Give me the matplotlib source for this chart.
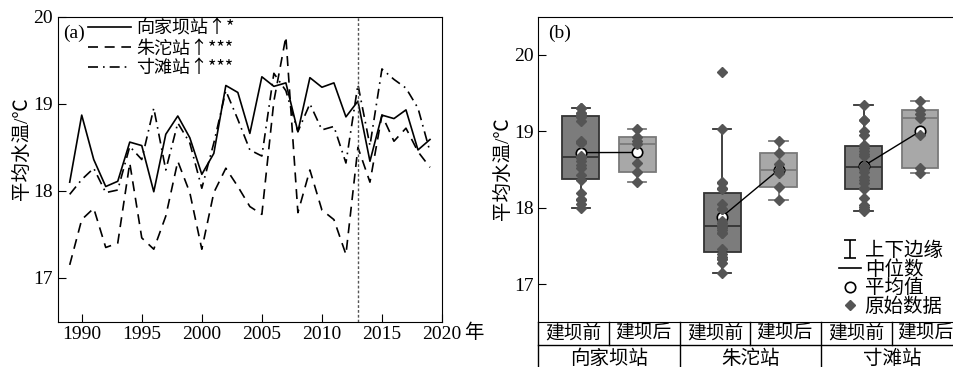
import matplotlib
matplotlib.use('Agg')
import matplotlib.pyplot as plt
import numpy as np
from matplotlib.lines import Line2D
from matplotlib.path import Path

plt.rcParams['font.family'] = ['Liberation Serif', 'Noto Sans CJK SC', 'DejaVu Sans']
plt.rcParams['font.size'] = 14

# annual mean water temperature, 1989-2019
years = np.arange(1989, 2020)
xiangjiaba = [18.10, 18.87, 18.36, 18.05, 18.11, 18.56, 18.52, 17.99, 18.65, 18.86, 18.61,
              18.19, 18.43, 19.21, 19.13, 18.66, 19.31, 19.20, 19.24, 18.68, 19.30,
              19.19, 19.24, 18.85, 19.03, 18.34, 18.87, 18.83, 18.93, 18.47, 18.59]
zhutuo = [17.15, 17.67, 17.80, 17.35, 17.40, 18.32, 17.46, 17.33, 17.71, 18.34, 17.98,
          17.33, 17.98, 18.26, 18.05, 17.82, 17.73, 19.03, 19.77, 17.75, 18.24,
          17.78, 17.67, 17.27, 18.50, 18.10, 18.87, 18.57, 18.72, 18.45, 18.27]
cuntan = [17.96, 18.13, 18.26, 17.98, 18.01, 18.51, 18.36, 18.95, 18.24, 18.78, 18.55,
          18.03, 18.55, 19.15, 18.82, 18.47, 18.40, 19.35, 19.15, 18.68, 19.00,
          18.70, 18.74, 18.32, 19.22, 18.52, 19.40, 19.28, 19.18, 18.95, 18.45]
dam_year = 2013

stations = ['向家坝站', '朱沱站', '寸滩站']
trends = ['↑*', '↑***', '↑***']
periods = ['建坝前', '建坝后']
series = [xiangjiaba, zhutuo, cuntan]
styles = ['-', (0, (6, 4)), (0, (6, 3, 1, 3))]

W, H = 954, 367
fig = plt.figure(figsize=(W / 100, H / 100), dpi=100)


def px_axes(l, t, r, b):
    return fig.add_axes([l / W, 1 - b / H, (r - l) / W, (b - t) / H])


# ---------------- (a) time series ----------------
ax = px_axes(57.7, 16.7, 442, 321.5)
for s, ls, name, tr in zip(series, styles, stations, trends):
    ax.plot(years, s, color='black', linestyle=ls, linewidth=1.2, label=name + tr)
ax.axvline(dam_year, color='#555555', linestyle=(0, (2, 1.5)), linewidth=1)
ax.set_xlim(1988, 2020)
ax.set_ylim(16.5, 20)
ax.set_xticks(range(1990, 2021, 5))
ax.set_yticks([17, 18, 19, 20])
ax.tick_params(direction='in', length=6, labelsize=14)
ax.legend(loc='upper left', bbox_to_anchor=(0.078, 0.99), frameon=False,
          handlelength=2.4, handletextpad=0.3, labelspacing=0.1,
          borderpad=0, borderaxespad=0,
          prop=dict(family=['Noto Sans CJK SC', 'Liberation Serif'], size=13))
ax.text(0.013, 0.945, '(a)', transform=ax.transAxes, va='center', ha='left', fontsize=14)
fig.text(21.5 / W, 1 - 148.5 / H, '平均水温/℃', rotation=90, ha='center', va='center', fontsize=14)
fig.text(474 / W, 1 - 333 / H, '年', ha='center', va='center', fontsize=14)


# ---------------- (b) box plots ----------------
def box_stats(v):
    v = np.asarray(v)
    q1, med, q3 = np.percentile(v, [25, 50, 75], method='weibull')
    iqr = q3 - q1
    return dict(med=med, q1=q1, q3=q3,
                whislo=v[v >= q1 - 1.5 * iqr].min(),
                whishi=v[v <= q3 + 1.5 * iqr].max(),
                fliers=[])


bx = px_axes(538.3, 16.7, 962.5, 322.3)
face = ['#7c7c7c', '#a8a8a8']
edge = ['#333333', '#7a7a7a']
point_color = '#555555'
years_arr = np.asarray(years)
for g, s in enumerate(series):
    s = np.asarray(s)
    parts = [s[years_arr < dam_year], s[years_arr >= dam_year]]
    pos = [2 * g + 0.6, 2 * g + 1.4]
    means = []
    for k, v in enumerate(parts):
        st = box_stats(v)
        bx.bxp([st], positions=[pos[k]], widths=0.52, capwidths=0.26, patch_artist=True,
               showfliers=False, manage_ticks=False,
               boxprops=dict(facecolor=face[k], edgecolor=edge[k], linewidth=1.3),
               medianprops=dict(color=edge[k], linewidth=1.3),
               whiskerprops=dict(color=edge[k], linewidth=1.3),
               capprops=dict(color=edge[k], linewidth=1.3))
        bx.plot(np.full(len(v), pos[k]), v, linestyle='none', marker='D', markersize=5,
                color=point_color, zorder=7)
        means.append(v.mean())
    bx.plot(pos, means, color='black', linewidth=1, zorder=5)
    bx.plot(pos, means, linestyle='none', marker='o', markersize=7.5,
            markerfacecolor='white', markeredgecolor='black', markeredgewidth=1.2, zorder=6)

bx.set_xlim(0, 6)
bx.set_ylim(16.5, 20.5)
bx.set_yticks([17, 18, 19, 20])
bx.set_xticks([])
bx.tick_params(direction='in', length=6, labelsize=14)
bx.text(0.022, 0.945, '(b)', transform=bx.transAxes, va='center', ha='left', fontsize=14)
fig.text(502.5 / W, 1 - 169 / H, '平均水温/℃', rotation=90, ha='center', va='center', fontsize=14)

# whisker legend marker
cap_path = Path([(-0.7, 1), (0.7, 1), (0, 1), (0, -1), (-0.7, -1), (0.7, -1)],
                [Path.MOVETO, Path.LINETO, Path.MOVETO, Path.LINETO, Path.MOVETO, Path.LINETO])
handles = [
    Line2D([], [], linestyle='none', marker=cap_path, markersize=13, color='black',
           markeredgewidth=1.2),
    Line2D([], [], color='black', linewidth=1.2),
    Line2D([], [], linestyle='none', marker='o', markersize=7.5, markerfacecolor='white',
           markeredgecolor='black', markeredgewidth=1.2),
    Line2D([], [], linestyle='none', marker='D', markersize=5, color=point_color),
]
labels = ['上下边缘', '中位数', '平均值', '原始数据']
bx.legend(handles, labels, loc='lower left', bbox_to_anchor=(0.71, 0.02), frameon=False,
          handlelength=1.1, handletextpad=0.2, labelspacing=0.02, borderpad=0,
          borderaxespad=0, fontsize=14)

# category table below panel (b)
tr = bx.get_xaxis_transform()
row1 = -(345 - 322.3) / 305.6
row2 = -0.2
kw = dict(color='black', linewidth=1, transform=tr, clip_on=False)
bx.plot([0, 6], [row1, row1], **kw)
bx.plot([0, 0], [0, row2], **kw)
for x in [1, 3, 5]:
    bx.plot([x, x], [0, row1], **kw)
for x in [2, 4]:
    bx.plot([x, x], [0, row2], **kw)
for g, name in enumerate(stations):
    for k, p in enumerate(periods):
        bx.text(2 * g + k + 0.5 - 0.02 * k, -(333.5 - 322.3) / 305.6, p, transform=tr,
                ha='center', va='center', fontsize=13.5)
    bx.text(2 * g + 1, -(359 - 322.3) / 305.6, name, transform=tr,
            ha='center', va='center', fontsize=14)

fig.savefig('out.png', dpi=100)
